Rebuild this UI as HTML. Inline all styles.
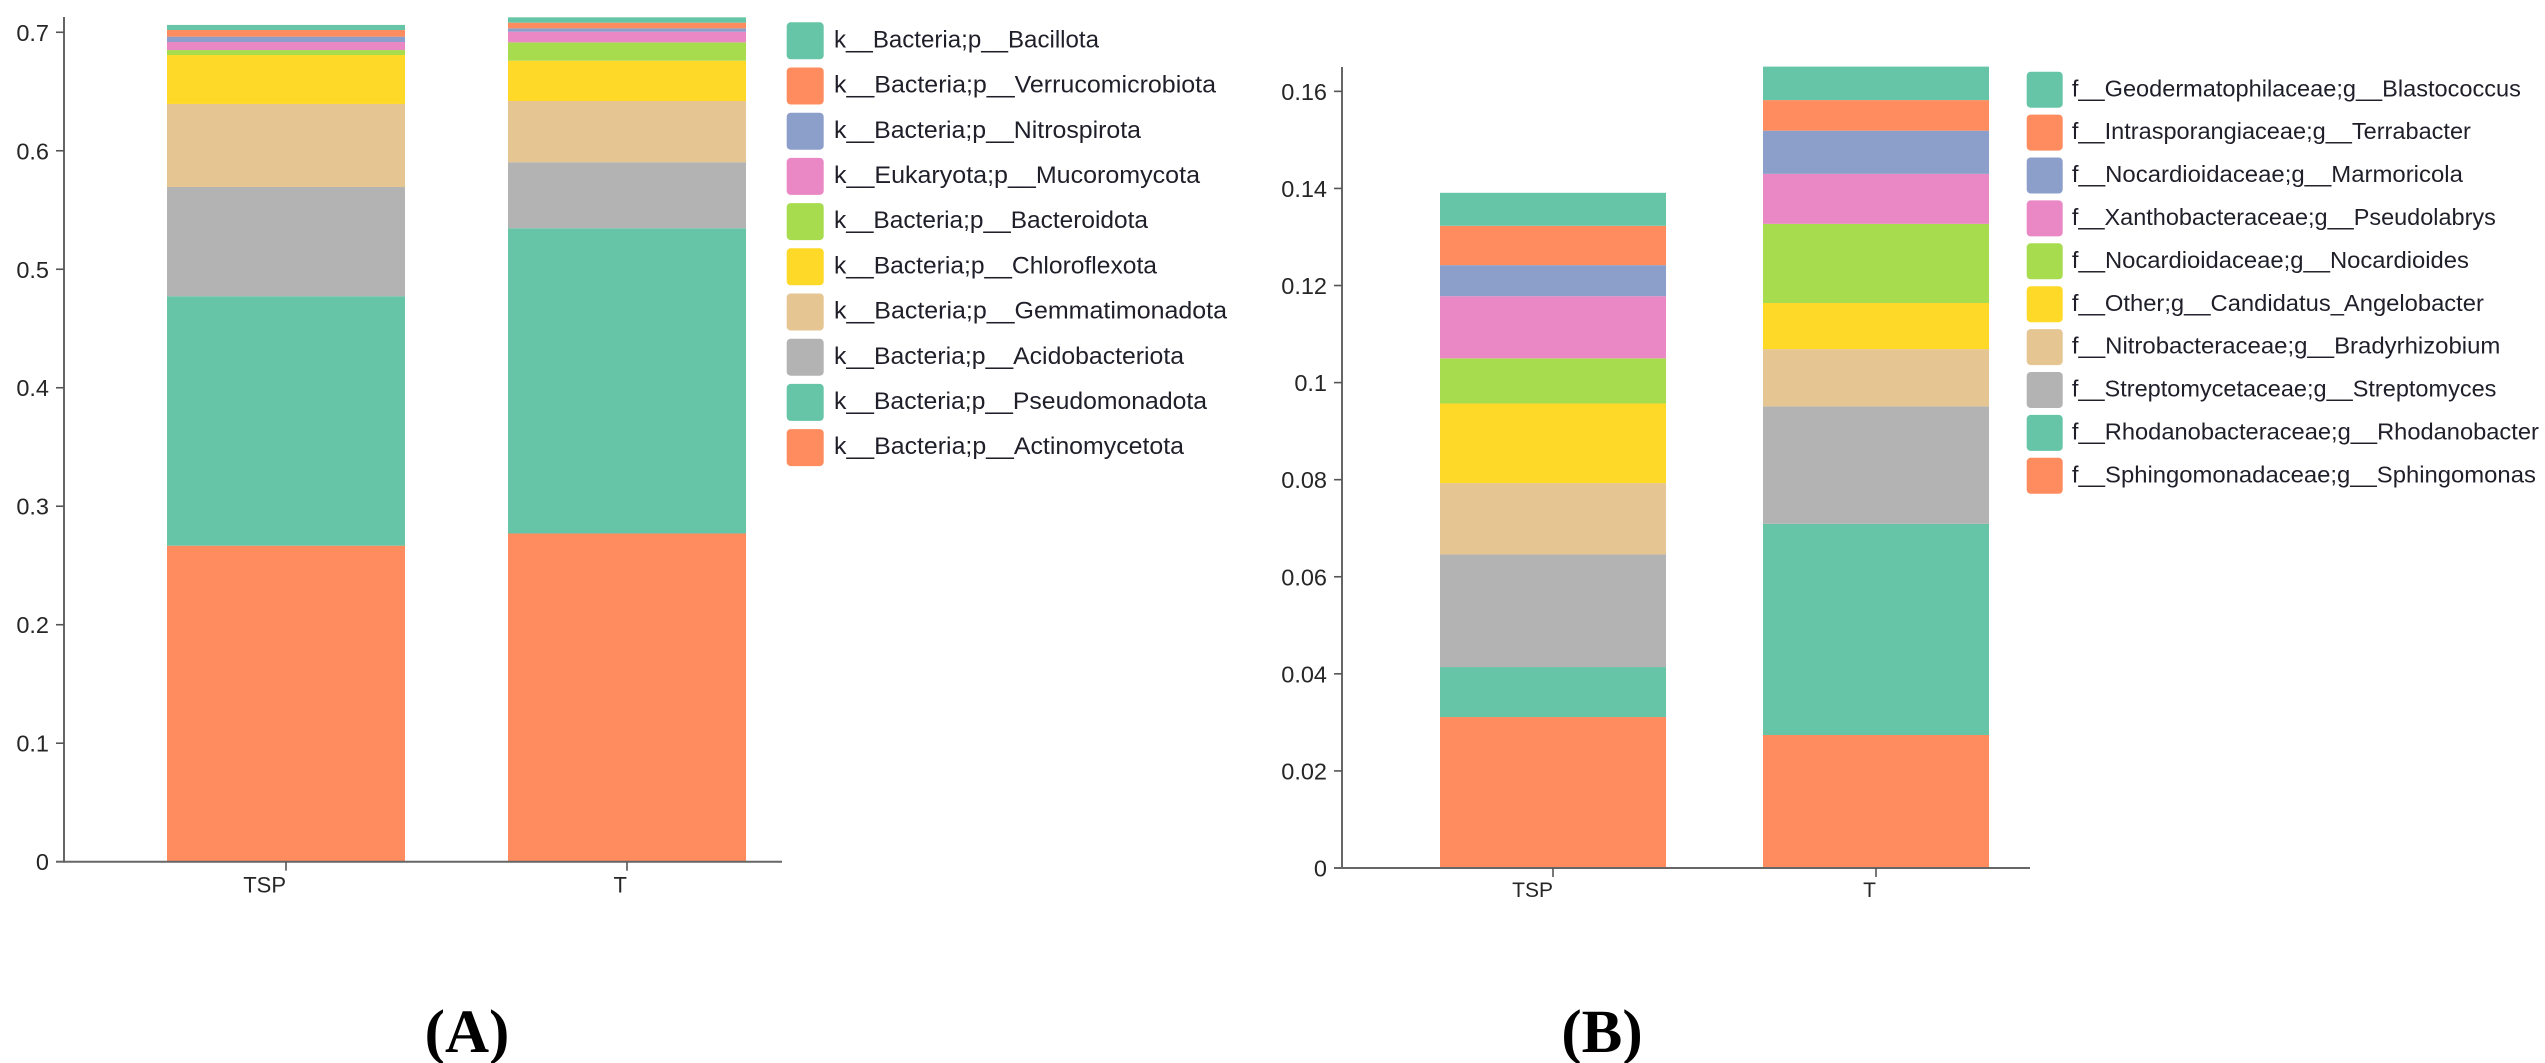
<!DOCTYPE html>
<html lang="en">
<head>
<meta charset="utf-8">
<title>Stacked bar charts of phylum and genus abundance</title>
<style>
  html, body { margin: 0; padding: 0; background: #fff; }
  svg { display: block; }
  .tick-text { font-family: "Liberation Sans", Arial, sans-serif; fill: #262626; }
  .legend-text { font-family: "Liberation Sans", Arial, sans-serif; fill: #1f1f2a; }
  .panel-text { font-family: "Liberation Serif", "Times New Roman", serif; font-weight: bold; fill: #000; }
</style>
</head>
<body>
<svg id="figure" xmlns="http://www.w3.org/2000/svg" width="2545" height="1063" viewBox="0 0 2545 1063">
  <rect x="0" y="0" width="2545" height="1063" fill="#ffffff"/>
  <g id="panelA"></g>
  <g id="panelB"></g>
  <text class="panel-text" x="467" y="1052" font-size="61" text-anchor="middle">(A)</text>
  <text class="panel-text" x="1602" y="1052" font-size="61" text-anchor="middle">(B)</text>
</svg>
<script>
const sampleNames = ["TSP", "T"];

const phylumLabels = [
  "k__Bacteria;p__Bacillota",
  "k__Bacteria;p__Verrucomicrobiota",
  "k__Bacteria;p__Nitrospirota",
  "k__Eukaryota;p__Mucoromycota",
  "k__Bacteria;p__Bacteroidota",
  "k__Bacteria;p__Chloroflexota",
  "k__Bacteria;p__Gemmatimonadota",
  "k__Bacteria;p__Acidobacteriota",
  "k__Bacteria;p__Pseudomonadota",
  "k__Bacteria;p__Actinomycetota"
];
const phylumTSP = [0.0043, 0.0056, 0.0045, 0.0068, 0.0042, 0.0413, 0.0701, 0.0922, 0.2105, 0.2667];
const phylumT = [0.0045, 0.0048, 0.0028, 0.0090, 0.0155, 0.0340, 0.0517, 0.0557, 0.2576, 0.2770];
const phylumTicks = [0, 0.1, 0.2, 0.3, 0.4, 0.5, 0.6, 0.7];

const genusLabels = [
  "f__Geodermatophilaceae;g__Blastococcus",
  "f__Intrasporangiaceae;g__Terrabacter",
  "f__Nocardioidaceae;g__Marmoricola",
  "f__Xanthobacteraceae;g__Pseudolabrys",
  "f__Nocardioidaceae;g__Nocardioides",
  "f__Other;g__Candidatus_Angelobacter",
  "f__Nitrobacteraceae;g__Bradyrhizobium",
  "f__Streptomycetaceae;g__Streptomyces",
  "f__Rhodanobacteraceae;g__Rhodanobacter",
  "f__Sphingomonadaceae;g__Sphingomonas"
];
const genusTSP = [0.0068, 0.0081, 0.0064, 0.0128, 0.0093, 0.0164, 0.0147, 0.0232, 0.0103, 0.0311];
const genusT = [0.0069, 0.0063, 0.0089, 0.0103, 0.0163, 0.0095, 0.0118, 0.0242, 0.0435, 0.0274];
const genusTicks = [0, 0.02, 0.04, 0.06, 0.08, 0.1, 0.12, 0.14, 0.16];

const seriesColors = ["#66c5a6", "#ff8c5f", "#8c9fcb", "#e988c4", "#a8dc4f", "#ffd927", "#e5c592", "#b3b3b3", "#66c5a6", "#ff8c5f"];

const NS = "http://www.w3.org/2000/svg";

function make(parent, tag, attrs, content) {
  const el = document.createElementNS(NS, tag);
  for (const key in attrs) el.setAttribute(key, attrs[key]);
  if (content !== undefined) el.textContent = content;
  parent.appendChild(el);
  return el;
}

function drawChart(cfg) {
  const root = cfg.root;
  const y = cfg.y;

  // stacked bars: legend order is top-to-bottom, so stack from the last series up
  cfg.samples.forEach(function (values, s) {
    const left = cfg.barLeft(s);
    let cumulative = 0;
    for (let i = values.length - 1; i >= 0; i--) {
      const top = cumulative + values[i];
      const seg = make(root, "rect", {
        x: left,
        y: y(top),
        width: cfg.barWidth,
        height: y(cumulative) - y(top),
        fill: seriesColors[i]
      });
      
      
      cumulative = top;
    }
  });

  // y axis
  const yAxis = make(root, "line", {
    x1: cfg.axisX, x2: cfg.axisX, y1: cfg.axisTop, y2: y(0) + 1,
    stroke: "#666", "stroke-width": 2
  });
  
  

  cfg.ticks.forEach(function (v) {
    const tick = make(root, "line", {
      x1: cfg.axisX - 8, x2: cfg.axisX, y1: y(v), y2: y(v),
      stroke: "#555", "stroke-width": 1.6
    });
    
    
    const label = make(root, "text", {
      class: "tick-text",
      x: cfg.axisX - 15,
      y: y(v) + 8.5,
      "font-size": 23.5,
      "text-anchor": "end"
    }, String(v));
    
    
  });

  // x axis
  const xAxis = make(root, "line", {
    x1: cfg.axisX - 8, x2: cfg.axisRight, y1: y(0), y2: y(0),
    stroke: "#666", "stroke-width": 2
  });
  
  

  sampleNames.forEach(function (name, s) {
    const cx = cfg.barLeft(s) + cfg.barWidth / 2;
    const tick = make(root, "line", {
      x1: cx, x2: cx, y1: y(0), y2: y(0) + 9,
      stroke: "#555", "stroke-width": 1.6
    });
    
    
    const label = make(root, "text", {
      class: "tick-text",
      x: cx,
      y: y(0) + cfg.xLabelDrop,
      "font-size": cfg.xLabelSize,
      "text-anchor": "end"
    }, name);
    
    
  });

  // legend
  cfg.labels.forEach(function (text, i) {
    const top = cfg.legendTop + i * cfg.legendStep;
    const entry = make(root, "g", {});
    
    
    const swatch = make(entry, "rect", {
      x: cfg.legendX,
      y: top,
      width: cfg.swatch,
      height: cfg.swatch,
      rx: 4,
      fill: seriesColors[i]
    });
    
    
    const label = make(entry, "text", {
      class: "legend-text",
      x: cfg.legendTextX,
      y: top + cfg.swatch / 2 + 6.6,
      "font-size": cfg.legendSize,
      textLength: cfg.legendWidths[i],
      lengthAdjust: "spacingAndGlyphs"
    }, text);
    
    
  });
}

function yPhylum(v) { return 861.7 - v * 1184.9; }
function xPhylum(s) { return 167 + s * 341; }
function yGenus(v) { return 868 - v * 4854; }
function xGenus(s) { return 1440 + s * 323; }

drawChart({
  root: document.getElementById("panelA"),
  samples: [phylumTSP, phylumT],
  labels: phylumLabels,
  ticks: phylumTicks,
  y: yPhylum,
  barLeft: xPhylum,
  barWidth: 238,
  axisX: 64,
  axisTop: 17,
  axisRight: 782,
  xLabelDrop: 31,
  xLabelSize: 22,
  legendX: 786.7,
  legendTop: 22.3,
  legendStep: 45.2,
  swatch: 37,
  legendTextX: 834,
  legendSize: 24,
  legendWidths: [265, 382, 307, 366, 314, 323, 393, 350, 373, 350]
});

drawChart({
  root: document.getElementById("panelB"),
  samples: [genusTSP, genusT],
  labels: genusLabels,
  ticks: genusTicks,
  y: yGenus,
  barLeft: xGenus,
  barWidth: 226,
  axisX: 1342,
  axisTop: 67,
  axisRight: 2030,
  xLabelDrop: 29,
  xLabelSize: 21,
  legendX: 2026.7,
  legendTop: 71.7,
  legendStep: 42.9,
  swatch: 36,
  legendTextX: 2071.9,
  legendSize: 23,
  legendWidths: [449, 399, 391, 424, 397, 412, 428.5, 424.5, 467, 464]
});
</script>
</body>
</html>
